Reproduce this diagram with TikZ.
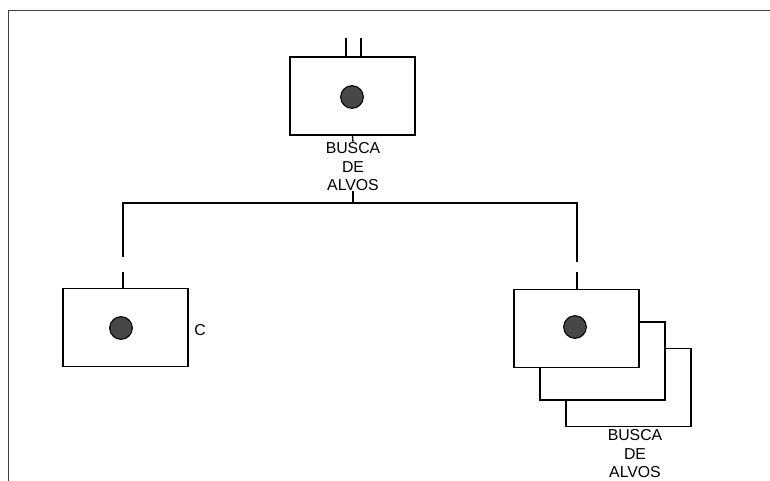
\documentclass[tikz,border=0pt]{standalone}
\usepackage{fontspec}
\setmainfont{Liberation Sans}
\begin{document}
\begin{tikzpicture}[
    x=0.03cm, y=-0.03cm,
    font=\fontsize{13.5}{16}\selectfont,
    caixa/.style={draw,fill=white,line width=1.2pt,minimum width=3.75cm,minimum height=2.34cm,inner sep=0pt},
    ponto/.style={circle,draw=black,fill=black!72,line width=0.9pt,inner sep=0pt,minimum size=0.68cm},
    rotulo/.style={align=center,inner sep=0pt},
    linha/.style={line width=1.1pt},
    moldura/.style={line width=0.8pt,black!75}]

  \useasboundingbox (0,0) rectangle (770,481);
  \draw[moldura] (8,481) -- (8,10) -- (770,10);   % borda da pagina

  % caixa de cima
  \node[caixa] (topo) at (352.5, 96) {};
  \node[ponto] (ptopo) at (352, 97) {};
  \node[rotulo,anchor=north] (rtopo) at (353, 142) {BUSCA\\DE\\ALVOS};
  \coordinate (fio1) at (346, 38);
  \coordinate (fio2) at (361, 38);
  \draw[linha] (fio1) -- (fio1 |- topo.north);
  \draw[linha] (fio2) -- (fio2 |- topo.north);

  % barra horizontal
  \coordinate (juncao) at (353, 203);
  \coordinate (esq)    at (123, 203);
  \coordinate (dir)    at (577, 203);
  \coordinate (esqa)   at (123, 257);
  \coordinate (esqb)   at (123, 272);
  \coordinate (dira)   at (577, 262);
  \coordinate (dirb)   at (577, 272);

  \draw[linha] (topo.south) -- (rtopo.north);
  \draw[linha] (rtopo.south) -- (juncao);
  \draw[linha] (esqa) -- (esq) -- (dir) -- (dira);

  % caixa da esquerda
  \node[caixa] (cesq) at (125.5, 327.5) {};
  \node[ponto] (pesq) at (121, 328) {};
  \node (letra) at (200, 330) {C};
  \draw[linha] (esqb) -- (esqb |- cesq.north);

  % pilha da direita (de tras para a frente)
  \node[caixa] (cdir3) at (628.5, 387.5) {};
  \node[caixa] (cdir2) at (602.5, 361) {};
  \node[caixa] (cdir1) at (576.5, 328.5) {};
  \node[ponto] (pdir) at (575, 327) {};
  \node[rotulo,anchor=north] (rdir) at (635, 429) {BUSCA\\DE\\ALVOS};
  \draw[linha] (dirb) -- (dirb |- cdir1.north);

\end{tikzpicture}
\end{document}
